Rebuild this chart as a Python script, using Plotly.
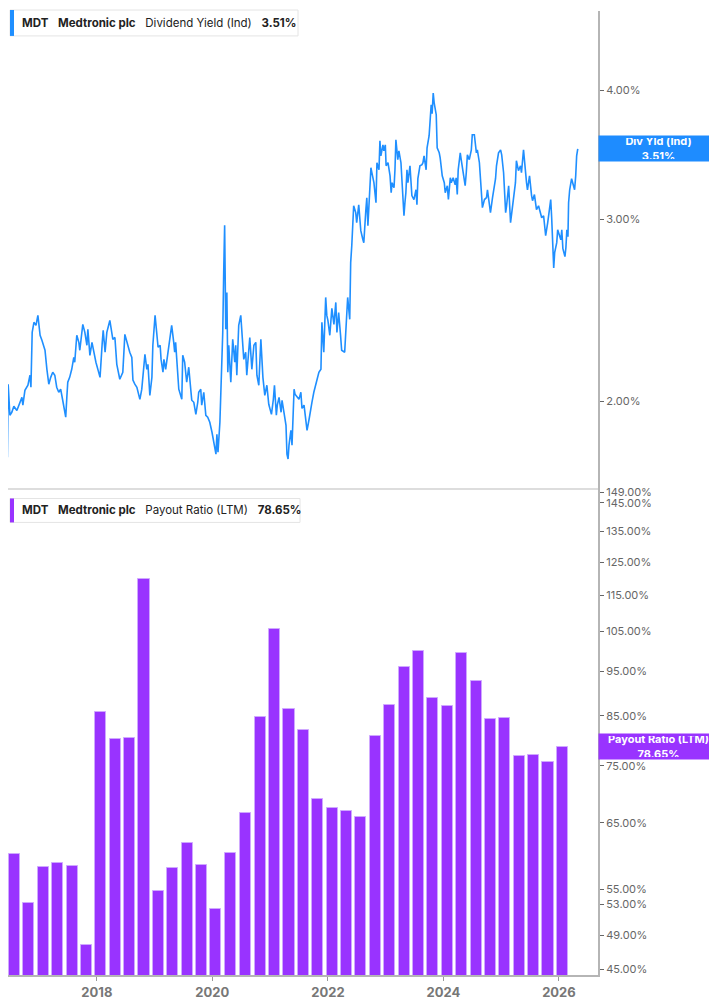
import math
import plotly.graph_objects as go

# ---------------- data ----------------
yield_dates = [
    "2016-04-28","2016-05-10","2016-05-16","2016-05-23","2016-06-05","2016-06-14","2016-06-19","2016-06-30",
    "2016-07-12","2016-07-25","2016-08-13","2016-09-02","2016-09-14","2016-09-20","2016-10-03","2016-10-22",
    "2016-11-04","2016-11-10","2016-11-18","2016-11-29","2016-12-12","2016-12-24",
    "2017-01-07","2017-01-19","2017-02-07","2017-02-19","2017-03-03","2017-03-15","2017-03-28","2017-04-10",
    "2017-04-22","2017-05-05","2017-05-17","2017-05-30","2017-06-18","2017-06-25","2017-07-01","2017-07-13",
    "2017-07-26","2017-08-08","2017-08-14","2017-08-27","2017-09-09","2017-09-15","2017-09-28","2017-10-04",
    "2017-10-17","2017-10-30","2017-11-05","2017-11-18","2017-12-01","2017-12-13","2017-12-26",
    "2018-01-09","2018-01-21","2018-02-04","2018-02-10","2018-02-22","2018-03-05","2018-03-24","2018-04-06",
    "2018-04-12","2018-04-25","2018-05-07","2018-05-26","2018-06-14","2018-06-27","2018-07-09","2018-07-16",
    "2018-07-28","2018-08-10","2018-08-17","2018-08-29","2018-09-11","2018-09-30","2018-10-12","2018-11-01",
    "2018-11-13","2018-11-20","2018-12-02","2018-12-15","2018-12-21",
    "2019-01-04","2019-01-16","2019-01-23","2019-02-05","2019-02-11","2019-02-23","2019-03-01","2019-03-12",
    "2019-04-01","2019-04-19","2019-05-02","2019-05-08","2019-05-14","2019-05-21","2019-06-03","2019-06-22",
    "2019-06-28","2019-07-10","2019-07-23","2019-08-05","2019-08-11","2019-08-24","2019-09-06","2019-09-19",
    "2019-10-01","2019-10-07","2019-10-20","2019-10-26","2019-11-08","2019-11-21","2019-12-03","2019-12-16",
    "2019-12-30",
    "2020-01-11","2020-01-24","2020-01-30","2020-02-06","2020-02-18","2020-03-01","2020-03-07","2020-03-13",
    "2020-03-19","2020-03-26","2020-04-02","2020-04-08","2020-04-14","2020-04-27","2020-05-09","2020-05-22",
    "2020-05-28","2020-06-04","2020-06-16","2020-06-29","2020-07-11","2020-07-18","2020-07-30","2020-08-06",
    "2020-08-25","2020-09-07","2020-09-20","2020-10-02","2020-10-09","2020-10-21","2020-11-03","2020-11-16",
    "2020-11-28","2020-12-11","2020-12-23",
    "2021-01-09","2021-01-21","2021-01-28","2021-02-09","2021-02-15","2021-02-26","2021-03-11","2021-03-17",
    "2021-03-29","2021-04-11","2021-04-17","2021-04-24","2021-04-30","2021-05-12","2021-05-19","2021-06-01",
    "2021-06-07","2021-06-20","2021-07-02","2021-07-14","2021-07-21","2021-08-03","2021-08-15","2021-08-22",
    "2021-09-04","2021-09-10","2021-09-22","2021-10-04","2021-10-17","2021-10-23","2021-11-05","2021-11-18",
    "2021-11-24","2021-12-06","2021-12-18","2021-12-25",
    "2022-01-01","2022-01-13","2022-01-26","2022-02-08","2022-02-20","2022-02-27","2022-03-10","2022-03-22",
    "2022-03-29","2022-04-17","2022-04-23","2022-04-30","2022-05-06","2022-05-19","2022-05-25","2022-06-01",
    "2022-06-13","2022-06-26","2022-07-02","2022-07-15","2022-07-28","2022-08-10","2022-08-16","2022-08-29",
    "2022-09-04","2022-09-11","2022-09-24","2022-09-30","2022-10-06","2022-10-19","2022-11-01","2022-11-07",
    "2022-11-20","2022-11-26","2022-12-02","2022-12-15","2022-12-21","2022-12-30",
    "2023-01-04","2023-01-16","2023-01-29","2023-02-05","2023-02-11","2023-02-23","2023-03-01","2023-03-07",
    "2023-03-19","2023-03-26","2023-04-08","2023-04-14","2023-04-27","2023-05-03","2023-05-09","2023-05-16",
    "2023-05-22","2023-06-04","2023-06-10","2023-06-16","2023-06-29","2023-07-12","2023-07-18","2023-07-24",
    "2023-08-06","2023-08-19","2023-08-25","2023-09-01","2023-09-14","2023-09-20","2023-10-03","2023-10-16",
    "2023-10-22","2023-10-29","2023-11-04","2023-11-17","2023-11-23","2023-12-06","2023-12-12","2023-12-25",
    "2024-01-07","2024-01-13","2024-01-26","2024-02-02","2024-02-14","2024-02-20","2024-03-03","2024-03-16",
    "2024-03-22","2024-03-29","2024-04-04","2024-04-17","2024-04-23","2024-05-06","2024-05-18","2024-05-25",
    "2024-06-01","2024-06-13","2024-06-26","2024-07-02","2024-07-15","2024-07-28","2024-08-03","2024-08-16",
    "2024-08-29","2024-09-04","2024-09-17","2024-09-30","2024-10-06","2024-10-18","2024-10-25","2024-11-07",
    "2024-11-13","2024-11-26","2024-12-02","2024-12-15","2024-12-28",
    "2025-01-04","2025-01-16","2025-01-29","2025-02-04","2025-02-17","2025-03-01","2025-03-07","2025-03-19",
    "2025-04-01","2025-04-07","2025-04-20","2025-05-03","2025-05-09","2025-05-22","2025-05-28","2025-06-10",
    "2025-06-16","2025-06-29","2025-07-12","2025-07-18","2025-07-30","2025-08-12","2025-08-25","2025-09-01",
    "2025-09-14","2025-09-26","2025-10-03","2025-10-09","2025-10-22","2025-10-28","2025-11-10","2025-11-16",
    "2025-11-23","2025-11-29","2025-12-05","2025-12-18","2025-12-24",
    "2026-01-01","2026-01-13","2026-01-19","2026-01-26","2026-02-08","2026-02-14","2026-02-20","2026-02-27",
    "2026-03-03","2026-03-10","2026-03-22","2026-03-29","2026-04-10","2026-04-17","2026-04-23","2026-04-30",
]
yield_values = [
    1.922,1.896,1.867,1.888,1.806,1.766,2.078,1.939,
    1.952,1.978,1.960,1.996,2.018,1.983,2.050,2.073,
    2.120,2.064,2.332,2.385,2.369,2.422,
    2.317,2.290,2.241,2.148,2.078,2.110,2.134,2.120,
    2.064,2.041,2.055,2.005,1.931,2.018,2.087,2.110,
    2.148,2.206,2.182,2.317,2.281,2.241,2.358,2.374,
    2.332,2.266,2.348,2.216,2.281,2.231,2.182,
    2.143,2.110,2.281,2.343,2.231,2.332,2.395,2.332,
    2.296,2.306,2.172,2.101,2.134,2.322,2.281,2.266,
    2.231,2.206,2.097,2.078,2.064,2.009,2.055,2.221,
    2.148,2.172,2.027,2.110,2.266,
    2.422,2.296,2.256,2.266,2.196,2.134,2.196,2.148,
    2.256,2.369,2.281,2.231,2.281,2.196,2.055,2.009,
    2.216,2.182,2.087,2.158,2.101,2.005,1.996,1.943,
    1.996,2.041,2.055,1.983,2.041,1.939,1.931,1.909,
    1.867,
    1.814,1.778,1.859,1.786,1.909,2.134,2.332,2.665,
    2.960,2.348,2.549,2.134,2.266,2.087,2.296,2.182,
    2.266,2.120,2.369,2.422,2.296,2.196,2.231,2.120,
    2.306,2.148,2.266,2.281,2.120,2.073,2.296,2.110,
    2.027,2.073,1.987,
    1.943,2.009,2.073,1.939,1.983,2.018,1.952,2.005,
    1.952,1.896,1.778,1.759,1.814,1.875,1.814,2.055,
    2.032,2.018,2.009,2.041,1.969,1.983,1.918,1.875,
    1.922,1.952,1.996,2.041,2.078,2.097,2.134,2.148,
    2.385,2.231,2.521,2.422,
    2.395,2.317,2.460,2.374,2.493,2.332,2.438,2.317,
    2.241,2.231,2.348,2.438,2.521,2.401,2.724,2.830,
    3.092,3.045,2.978,3.099,2.925,2.868,2.848,3.065,
    3.148,2.958,3.183,3.365,3.328,3.255,3.113,3.403,
    3.350,3.573,3.455,3.541,3.494,3.541,
    3.380,3.403,3.305,3.183,3.255,3.219,3.350,3.581,
    3.426,3.494,3.403,3.255,3.024,3.113,3.183,3.350,
    3.255,3.380,3.255,3.163,3.135,3.204,3.099,3.284,
    3.380,3.388,3.403,3.455,3.350,3.518,3.614,3.871,
    3.795,3.975,3.889,3.787,3.518,3.479,3.440,3.305,
    3.255,3.183,3.233,3.135,3.291,3.255,3.291,3.240,
    3.291,3.170,3.350,3.479,3.426,3.328,3.233,3.328,
    3.463,3.426,3.502,3.622,3.622,3.479,3.502,3.403,
    3.183,3.079,3.135,3.148,3.204,3.113,3.045,3.148,
    3.183,3.284,3.380,3.479,3.502,
    3.463,3.328,3.045,3.092,3.233,2.978,3.024,3.135,
    3.255,3.418,3.343,3.380,3.328,3.502,3.403,3.255,
    3.204,3.305,3.163,3.127,3.170,3.065,3.092,3.058,
    3.011,3.024,2.965,2.893,2.978,3.024,3.135,3.011,
    2.848,2.692,2.786,2.848,2.931,
    2.899,2.867,2.931,2.810,2.761,2.817,2.931,2.886,
    3.113,3.204,3.284,3.255,3.204,3.305,3.455,3.510,
]

payout_dates = [
    "2016-04-29","2016-07-29","2016-10-28","2017-01-27","2017-04-28","2017-07-28","2017-10-27",
    "2018-01-26","2018-04-27","2018-07-27","2018-10-26","2019-01-25","2019-04-26","2019-07-26",
    "2019-10-25","2020-01-24","2020-04-24","2020-07-31","2020-10-30","2021-01-29","2021-04-30",
    "2021-07-30","2021-10-29","2022-01-28","2022-04-29","2022-07-29","2022-10-28","2023-01-27",
    "2023-04-28","2023-07-28","2023-10-27","2024-01-26","2024-04-26","2024-07-26","2024-10-25",
    "2025-01-24","2025-04-25","2025-07-25","2025-10-24","2026-01-23",
]
payout_values = [
    60.3, 60.1, 53.1, 58.2, 58.8, 58.3, 47.8,
    85.9, 80.1, 80.3, 119.7, 54.7, 58.0, 61.8,
    58.5, 52.4, 60.3, 66.6, 84.8, 105.7, 86.4,
    82.0, 69.0, 67.4, 67.0, 66.0, 80.8, 87.3,
    96.1, 100.1, 88.8, 87.0, 99.6, 92.7, 84.4,
    84.5, 76.9, 77.1, 75.7, 78.65,
]

yield_ticks = [2.0, 3.0, 4.0]
payout_ticks = [45, 49, 53, 55, 65, 75, 85, 95, 105, 115, 125, 135, 145, 149]
year_ticks = ["2018", "2020", "2022", "2024", "2026"]

ticker = "MDT"
company = "Medtronic plc"
yield_name = "Dividend Yield (Ind)"
yield_short = "Div Yld (Ind)"
payout_name = "Payout Ratio (LTM)"
last_yield = yield_values[-1]
last_payout = payout_values[-1]

# ---------------- style / layout ----------------
BLUE = "#1f8fff"
BLUE_LABEL = "#1e8cff"
PURPLE = "#9933ff"
FONT = "Inter"
OFF = 8                      # default page body margin of the written html
W, H = 717 - OFF, 1005 - OFF
ML, MR, MT, MB = 0, 119, 0, 30
PW = W - ML - MR
PH = H - MT - MB
SPLIT = (975 - 486.5) / PH   # separator between the two panels (page px)


def px_x(p):
    """page pixel x -> paper coordinate"""
    return (p - OFF - ML) / PW


def px_y(p):
    """page pixel y -> paper coordinate"""
    return (PH - (p - OFF - MT)) / PH


fig = go.Figure()

fig.add_trace(go.Scatter(
    x=yield_dates, y=yield_values, mode="lines",
    line=dict(color=BLUE, width=1.6), xaxis="x", yaxis="y",
    hoverinfo="skip", showlegend=False,
))

fig.add_trace(go.Bar(
    x=payout_dates, y=payout_values, xaxis="x2", yaxis="y2",
    marker=dict(color=PURPLE, line=dict(color="#cfa8ff", width=1)),
    width=70 * 86400000, hoverinfo="skip", showlegend=False,
))

xrange = ["2016-06-18", "2026-09-05"]
tick_font = dict(family=FONT, size=11, color="#666666")

fig.update_layout(
    width=W, height=H,
    margin=dict(l=ML, r=MR, t=MT, b=MB),
    paper_bgcolor="white", plot_bgcolor="white",
    font=dict(family=FONT),
    bargap=0,
    xaxis=dict(
        domain=[0, 1], range=xrange, type="date", anchor="y",
        showticklabels=False, ticks="", showgrid=False, zeroline=False,
        showline=True, linecolor="#dddddd", linewidth=2,
    ),
    yaxis=dict(
        domain=[SPLIT, 1], type="log", side="right", anchor="x",
        range=[math.log10(1.649), math.log10(4.771)],
        tickvals=yield_ticks, ticktext=[f"{v:.2f}%" for v in yield_ticks],
        ticks="outside", ticklen=4, tickcolor="#666666", tickfont=tick_font,
        showgrid=False, zeroline=False,
        showline=True, linecolor="#b5b5b5", linewidth=2,
    ),
    xaxis2=dict(
        domain=[0, 1], range=xrange, type="date", anchor="y2",
        tickvals=[f"{y}-01-01" for y in year_ticks], ticktext=year_ticks,
        ticks="outside", ticklen=4, tickcolor="#999999",
        tickfont=dict(family=FONT, size=13, color="#777777", weight="bold"),
        showgrid=False, zeroline=False,
        showline=True, linecolor="#b5b5b5", linewidth=2,
    ),
    yaxis2=dict(
        domain=[0, SPLIT], type="log", side="right", anchor="x2",
        range=[math.log10(44.36), math.log10(150.5)],
        tickvals=payout_ticks, ticktext=[f"{v:.2f}%" for v in payout_ticks],
        ticks="outside", ticklen=4, tickcolor="#666666", tickfont=tick_font,
        showgrid=False, zeroline=False,
        showline=True, linecolor="#b5b5b5", linewidth=2,
    ),
)

shapes = []
annotations = []


def legend_box(x0, x1, y0, y1, accent, text):
    shapes.append(dict(type="rect", xref="paper", yref="paper",
                       x0=px_x(x0), x1=px_x(x1), y0=px_y(y1), y1=px_y(y0),
                       line=dict(color="#e4e4e4", width=1), fillcolor="white", layer="above"))
    shapes.append(dict(type="rect", xref="paper", yref="paper",
                       x0=px_x(x0), x1=px_x(x0 + 4), y0=px_y(y1), y1=px_y(y0),
                       line=dict(width=0), fillcolor=accent, layer="above"))
    annotations.append(dict(xref="paper", yref="paper", x=px_x(x0 + 10), y=px_y((y0 + y1) / 2),
                            xanchor="left", yanchor="middle", showarrow=False, text=text,
                            font=dict(family=FONT, size=11.5, color="#222222")))


sp = "\u00a0\u00a0\u00a0"
legend_box(10, 298, 7, 33, BLUE,
           f"<b>{ticker}</b>{sp}<b>{company}</b>{sp}{yield_name}{sp}<b>{last_yield:.2f}%</b>")
legend_box(10, 300, 497, 521, PURPLE,
           f"<b>{ticker}</b>{sp}<b>{company}</b>{sp}{payout_name}{sp}<b>{last_payout:.2f}%</b>")

annotations.append(dict(
    xref="paper", yref="y", x=1, y=math.log10(last_yield), xanchor="left", yanchor="middle",
    showarrow=False, text=f"<b>{yield_short}</b><br><b>{last_yield:.2f}%</b>",
    bgcolor=BLUE_LABEL, width=115, height=21, borderpad=2, align="center",
    font=dict(family=FONT, size=11, color="white"),
))
annotations.append(dict(
    xref="paper", yref="y2", x=1, y=math.log10(last_payout), xanchor="left", yanchor="middle",
    showarrow=False, text=f"<b>{payout_name}</b><br><b>{last_payout:.2f}%</b>",
    bgcolor=PURPLE, width=115, height=21, borderpad=2, align="center",
    font=dict(family=FONT, size=11, color="white"),
))

fig.update_layout(shapes=shapes, annotations=annotations)

fig.write_html("out.html")
